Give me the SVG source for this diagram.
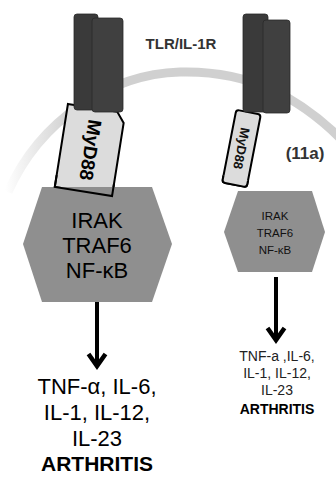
<svg xmlns="http://www.w3.org/2000/svg" width="336" height="477" viewBox="0 0 336 477">
<style>
.rec{fill:#3a3a3a;stroke:#2a2a2a;stroke-width:0.8}
.recf{fill:#404040;stroke:#2a2a2a;stroke-width:0.8}
.myd{fill:#dcdcdc;stroke:#000;stroke-width:2}
.hex{fill:#8f8f8f}
.t{font-family:"Liberation Sans",Arial,sans-serif;text-anchor:middle}
.b{font-weight:bold}
.con{stroke:#000;stroke-width:4;fill:none}
</style>
<defs>
<linearGradient id="arcg" gradientUnits="userSpaceOnUse" x1="5" y1="0" x2="70" y2="0">
<stop offset="0" stop-color="#d0d0d0" stop-opacity="0"/>
<stop offset="1" stop-color="#d0d0d0" stop-opacity="1"/>
</linearGradient>
<marker id="ah" viewBox="0 -12 22 24" markerWidth="22" markerHeight="24" refX="14" refY="0" markerUnits="userSpaceOnUse" orient="auto" overflow="visible">
<path d="M 2 -8.5 L 14 0 L 2 8.5" fill="none" stroke="#000" stroke-width="4.5" stroke-linejoin="miter"/>
</marker>
</defs>
<rect width="336" height="477" fill="#fff"/>
<g id="membrane">
<path d="M 8 192 C 40 120, 110 74, 180 72 C 250 70, 300 98, 342 140" fill="none" stroke="url(#arcg)" stroke-width="9"/>
</g>
<g id="label-tlr">
<text class="t b" x="181" y="49" font-size="15" fill="#333">TLR/IL-1R</text>
</g>
<g id="label-11a">
<text class="t b" x="305" y="159" font-size="17" fill="#333">(11a)</text>
</g>
<g id="myd88-left">
<g transform="translate(90,150) rotate(9)">
<polygon class="myd" points="-29,-42 21,-42 29,-32 29,42 -29,42"/>
<text class="t b" transform="rotate(90)" x="0" y="6" font-size="19" fill="#000">MyD88</text>
</g>
</g>
<g id="receptor-left">
<rect class="rec" x="74" y="14" width="24" height="96" rx="3"/>
<rect class="recf" x="92" y="18" width="31" height="94" rx="3"/>
</g>
<g id="myd88-right">
<g transform="translate(241.5,148.5) rotate(11)">
<rect class="myd" x="-12.5" y="-37" width="25" height="74" rx="3"/>
<text class="t b" transform="rotate(90)" x="0" y="4.5" font-size="13" fill="#111">MyD88</text>
</g>
</g>
<g id="receptor-right">
<rect class="rec" x="243" y="14" width="25" height="98" rx="3"/>
<rect class="recf" x="263" y="20" width="27" height="93" rx="3"/>
</g>
<g id="hex-left">
<polygon class="hex" points="23,244 42,187 152,187 172,244 152,302 42,302"/>
<text class="t" x="97" y="228" font-size="22" fill="#000">IRAK</text>
<text class="t" x="97" y="253" font-size="22" fill="#000">TRAF6</text>
<text class="t" x="97" y="278" font-size="22" fill="#000">NF-κB</text>
</g>
<g id="myd88-left-front">
<g transform="translate(90,150) rotate(9)">
<path d="M -29 30 L -29 42 L 29 42 L 29 30" fill="none" stroke="#000" stroke-width="2"/>
</g>
</g>
<g id="hex-right">
<polygon class="hex" points="224,232 238,191 312,191 325,232 312,272 238,272"/>
<text class="t" x="275" y="220" font-size="11.5" fill="#111">IRAK</text>
<text class="t" x="275" y="237" font-size="11.5" fill="#111">TRAF6</text>
<text class="t" x="275" y="254" font-size="11.5" fill="#111">NF-κB</text>
</g>
<g id="myd88-right-front">
<g transform="translate(241.5,148.5) rotate(11)">
<path d="M -12.5 30 L -12.5 34 Q -12.5 37 -9.5 37 L 9.5 37 Q 12.5 37 12.5 34 L 12.5 30" fill="#dcdcdc" stroke="#000" stroke-width="2"/>
</g>
</g>
<g id="connectors">
<line class="con" x1="97" y1="302" x2="97" y2="366" marker-end="url(#ah)"/>
<line class="con" x1="276" y1="277" x2="276" y2="340" marker-end="url(#ah)"/>
</g>
<g id="out-left">
<text class="t" x="97" y="394" font-size="22" fill="#000">TNF-α, IL-6,</text>
<text class="t" x="97" y="420" font-size="22" fill="#000">IL-1, IL-12,</text>
<text class="t" x="97" y="446" font-size="22" fill="#000">IL-23</text>
<text class="t b" x="97" y="471" font-size="21" fill="#000">ARTHRITIS</text>
</g>
<g id="out-right">
<text class="t" x="277" y="361" font-size="14" fill="#222">TNF-a ,IL-6,</text>
<text class="t" x="277" y="378" font-size="14" fill="#222">IL-1, IL-12,</text>
<text class="t" x="277" y="395" font-size="14" fill="#222">IL-23</text>
<text class="t b" x="277" y="414" font-size="14" fill="#000">ARTHRITIS</text>
</g>
</svg>
